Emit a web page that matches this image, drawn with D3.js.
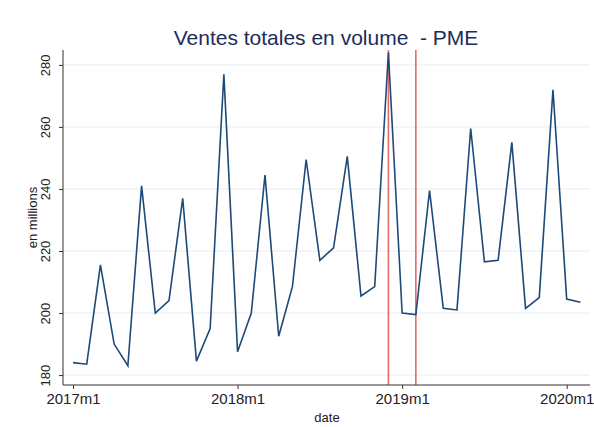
<!DOCTYPE html>
<html>
<head>
<meta charset="utf-8">
<script src="https://cdn.jsdelivr.net/npm/d3@7"></script>
<style>
	body { margin: 0; background: #ffffff; }
	text { font-family: "Liberation Sans", Arial, sans-serif; }
</style>
</head>
<body>
<script>
	// monthly sales, 2017m1 .. 2020m2 (in millions)
	const months = d3.range(38);
	const ventes = [184, 183.5, 215.5, 190, 183, 241, 200, 204, 237, 184.5, 195, 277,
		187.5, 200, 244.5, 192.5, 208.5, 249.5, 217, 221, 250.5, 205.5, 208.5, 284,
		200, 199.5, 239.5, 201.5, 201, 259.5, 216.5, 217, 255, 201.5, 205, 272,
		204.5, 203.5];
	const yTicks = [180, 200, 220, 240, 260, 280];
	const xTicks = [0, 12, 24, 36];
	const xTickLabels = ["2017m1", "2018m1", "2019m1", "2020m1"];
	const redLines = [23, 25]; // 2018m12, 2019m2

	const size_graph = {x: 594, y: 427},
		plot = {left: 63, right: 590, top: 50, bot: 385};

	const svg = d3.select("body").append("svg")
		.attr("width", size_graph.x)
		.attr("height", size_graph.y);

	const x = d3.scaleLinear().domain([-0.73, 37.7]).range([plot.left, plot.right]);
	const y = d3.scaleLinear().domain([176.8, 284.8]).range([plot.bot, plot.top]);

	// grid
	svg.append("g").selectAll("line")
		.data(yTicks)
		.enter().append("line")
		.attr("x1", plot.left).attr("x2", plot.right)
		.attr("y1", d => y(d)).attr("y2", d => y(d))
		.attr("stroke", "#e4edf4").attr("stroke-width", 1);

	// red vertical lines
	svg.append("g").selectAll("line")
		.data(redLines)
		.enter().append("line")
		.attr("x1", d => x(d)).attr("x2", d => x(d))
		.attr("y1", plot.top).attr("y2", plot.bot)
		.attr("stroke", "#e46a6a").attr("stroke-width", 1.6);

	// series
	const line = d3.line().x((d, i) => x(months[i])).y(d => y(d));
	svg.append("path")
		.datum(ventes)
		.attr("d", line)
		.attr("fill", "none")
		.attr("stroke", "#1d4a78")
		.attr("stroke-width", 1.6);

	// axes
	const yAxis = d3.axisLeft(y).tickValues(yTicks).tickSize(4).tickPadding(4).tickSizeOuter(0);
	const gy = svg.append("g")
		.attr("transform", `translate(${plot.left},0)`)
		.call(yAxis);
	gy.select(".domain").attr("d", `M0,${plot.top}V${plot.bot}`).attr("stroke", "#333");
	gy.selectAll(".tick line").attr("stroke", "#333");
	// rotated tick labels
	gy.selectAll(".tick text")
		.attr("transform", "translate(-13,0) rotate(-90)")
		.attr("x", 0).attr("y", 0).attr("dy", "0")
		.style("text-anchor", "middle")
		.style("font-size", "13px")
		.attr("fill", "#222");

	const xAxis = d3.axisBottom(x).tickValues(xTicks)
		.tickFormat((d, i) => xTickLabels[i]).tickSize(4).tickPadding(4).tickSizeOuter(0);
	const gx = svg.append("g")
		.attr("transform", `translate(0,${plot.bot})`)
		.call(xAxis);
	gx.select(".domain").attr("d", `M${plot.left},0H${plot.right}`).attr("stroke", "#333");
	gx.selectAll(".tick line").attr("stroke", "#333");
	gx.selectAll(".tick text")
		.style("font-size", "15px")
		.attr("fill", "#222");

	// titles
	svg.append("text")
		.attr("x", 326).attr("y", 45)
		.attr("text-anchor", "middle")
		.style("font-size", "21px")
		.style("white-space", "pre")
		.attr("fill", "#1c2d5a")
		.text("Ventes totales en volume  - PME");

	svg.append("text")
		.attr("transform", `translate(37,${(plot.top + plot.bot) / 2}) rotate(-90)`)
		.attr("text-anchor", "middle")
		.style("font-size", "13px")
		.attr("fill", "#222")
		.text("en millions");

	svg.append("text")
		.attr("x", 327).attr("y", 422)
		.attr("text-anchor", "middle")
		.style("font-size", "13px")
		.attr("fill", "#222")
		.text("date");
</script>
</body>
</html>
